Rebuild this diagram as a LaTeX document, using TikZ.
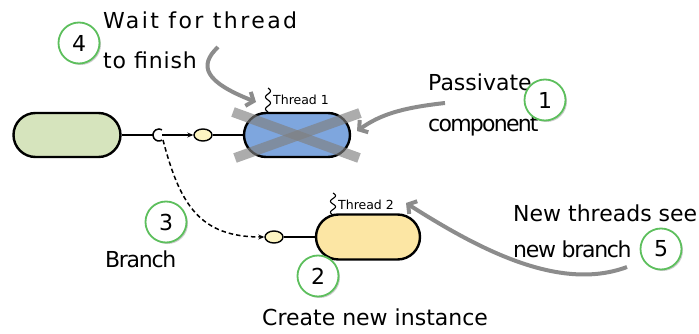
\documentclass[tikz,border=0pt]{standalone}
\usepackage{fontspec}
\setmainfont{DejaVu Sans}
\usetikzlibrary{shapes.misc,shapes.geometric,arrows.meta,shadows}
\definecolor{pillgreen}{HTML}{D6E4BD}
\definecolor{pillblue}{HTML}{7EA6DE}
\definecolor{pillyellow}{HTML}{FCE6A4}
\definecolor{ballyellow}{HTML}{FDF5C2}
\definecolor{numgreen}{HTML}{5DBF5D}
\definecolor{arrowgray}{HTML}{8C8C8C}
\begin{document}
\begin{tikzpicture}[x=1pt,y=-1pt,
  pill/.style={rounded rectangle, draw=black, line width=2.4pt, minimum height=44pt, inner sep=0pt},
  ball/.style={ellipse, draw=black, line width=1.4pt, fill=ballyellow, minimum width=18pt, minimum height=12pt, inner sep=0pt},
  numc/.style={circle, draw=numgreen, line width=1.8pt, fill=white, minimum size=41pt, inner sep=0pt,
    font=\fontsize{22}{22}\selectfont,
    drop shadow={shadow xshift=1.5pt, shadow yshift=-1.5pt, opacity=0.2, fill=black}},
  hand/.style={font=\fontsize{22}{22}\selectfont, anchor=base west, inner sep=0pt},
  ls/.style={font=\fontsize{22}{22}\selectfont\addfontfeature{LetterSpace=#1}},
  tlabel/.style={font=\fontsize{12.5}{12.5}\selectfont, anchor=base west, inner sep=0pt},
  wire/.style={draw=black, line width=1.5pt},
  grayarrow/.style={draw=arrowgray, line width=4pt, -{Straight Barb[length=6pt,width=15pt]}},
  cross/.style={draw=gray, opacity=0.65, line width=10pt}
]
\useasboundingbox (0,0) rectangle (699,334);

% component and wiring
\node[pill, fill=pillgreen, minimum width=107pt] (comp) at (67,135) {};
\coordinate (sock) at (159,135);
\coordinate (sockL) at (153,135);
\coordinate (sockR) at (162,135);
\coordinate (sockB) at (163,140);
\draw[wire] (comp.east) -- (sockL);
\draw[wire] ([shift={(60:6)}]sock) arc[start angle=60, end angle=300, radius=6];

\node[ball] (b1) at (203,135) {};
\draw[wire, -{Stealth[length=6pt,width=5pt]}] (sockR) -- (b1.west);
\node[pill, fill=pillblue, minimum width=106pt] (t1) at (297,135) {};
\draw[wire] (b1.east) -- (t1.west);

\node[ball] (b2) at (274,237) {};
\node[pill, fill=pillyellow, minimum width=104pt, minimum height=45pt] (t2) at (368,237) {};
\draw[wire] (b2.east) -- (t2.west);
\draw[wire, dash pattern=on 4.5pt off 3pt, -{Stealth[length=6pt,width=5pt]}]
  (sockB) .. controls (180,205) and (200,237) .. (b2.west);

% cross over thread 1
\coordinate (xa) at (233,112);
\coordinate (xb) at (359,158);
\coordinate (xc) at (235,158);
\coordinate (xd) at (360,113);
\draw[cross] (xa) -- (xb);
\draw[cross] (xc) -- (xd);

% thread labels
\draw[line width=1.1pt] plot[domain=0:24, samples=49] ({268+2.5*sin(\x*30)}, {88+\x});
\node[tlabel] (l1) at (273,105) {Thread 1};
\draw[line width=1.1pt] plot[domain=0:22, samples=45] ({333+2.5*sin(\x*32.7)}, {193+\x});
\node[tlabel] (l2) at (338,209) {Thread 2};

% texts
\node[hand, ls=11] (w1) at (103,29) {Wait for thread};
\node[hand, ls=4] (w2) at (103,69) {to finish};
\node[hand] (p1) at (428,91) {Passivate};
\node[hand, ls=-8] (p2) at (428,132) {component};
\node[hand, ls=-6] (br) at (105,267) {Branch};
\node[hand] (cr) at (262,325) {Create new instance};
\node[hand] (n1) at (513,222) {New threads see};
\node[hand, ls=-6] (n2) at (513,257) {new branch};

% number circles
\node[numc] (c4) at (79,43) {4};
\node[numc] (c1) at (545,100) {1};
\node[numc] (c3) at (166,222) {3};
\node[numc] (c2) at (318,276) {2};
\node[numc] (c5) at (661,249) {5};

% gray arrows
\coordinate (a1s) at (218,47);
\coordinate (a1e) at (256,102);
\draw[grayarrow] (a1s) .. controls (198,66) and (205,82) .. (a1e);
\coordinate (a2s) at (445,103);
\coordinate (a2e) at (357,131);
\draw[grayarrow] (a2s) .. controls (400,108) and (380,115) .. (a2e);
\coordinate (a3s) at (627,267);
\coordinate (a3e) at (406,203);
\draw[grayarrow] (a3s) .. controls (560,292) and (480,250) .. (a3e);
\end{tikzpicture}
\end{document}
